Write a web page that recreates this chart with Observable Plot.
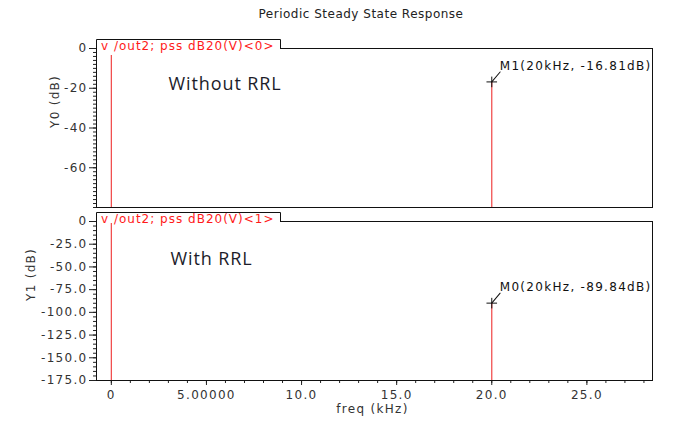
<!DOCTYPE html>
<html><head><meta charset="utf-8">
<script src="https://cdn.jsdelivr.net/npm/d3@7"></script>
<script src="https://cdn.jsdelivr.net/npm/@observablehq/plot@0.6"></script>
<style>
body{margin:0;background:#fff;}
#chart{position:relative;width:673px;height:421px;overflow:hidden;background:#fff;}
#chart svg{display:block;}
</style></head><body><div id="chart"></div>
<script>
// ---- data ----
const title = "Periodic Steady State Response";
const freq = [0, 20];                 // kHz
const y0dB = [-3.5, -16.81];          // Without RRL
const y1dB = [5, -89.84];             // With RRL
const markerFreq = [20];
const markerNames0 = ["M1"];
const markerValues0 = [-16.81];
const markerNames1 = ["M0"];
const markerValues1 = [-89.84];
const traceName0 = "v /out2; pss dB20(V)<0>";
const traceName1 = "v /out2; pss dB20(V)<1>";
const note0 = "Without RRL";
const note1 = "With RRL";
const xTicks = [0, 5, 10, 15, 20, 25];
const xTickLabels = ["0", "5.00000", "10.0", "15.0", "20.0", "25.0"];
const y0Ticks = [0, -20, -40, -60];
const y0TickLabels = ["0", "-20", "-40", "-60"];
const y1Ticks = [0, -25, -50, -75, -100, -125, -150, -175];
const y1TickLabels = ["0", "-25.0", "-50.0", "-75.0", "-100.0", "-125.0", "-150.0", "-175.0"];
const xDomain = [-0.78, 28.45];
const y0Domain = [-80, 0];
const y1Domain = [-175, 0];
const xLabel = "freq (kHz)";
const y0Label = "Y0 (dB)";
const y1Label = "Y1 (dB)";

// ---- derived tables ----
const topRows = freq.map((f, i) => ({f, v: y0dB[i]}));
const botRows = freq.map((f, i) => ({f, v: y1dB[i]}));
const mk0 = markerFreq.map((f, i) => ({f, v: markerValues0[i], label: `${markerNames0[i]}(${f}kHz, ${markerValues0[i]}dB)`}));
const mk1 = markerFreq.map((f, i) => ({f, v: markerValues1[i], label: `${markerNames1[i]}(${f}kHz, ${markerValues1[i]}dB)`}));
const y0Minor = d3.range(0, -81, -2);
const y1Minor = d3.range(0, -176, -5);
const xMinor = d3.range(0, 29, 1);

const RED = "#f04444";
const leader = {draw(ctx, l) { ctx.moveTo(0, 0); ctx.lineTo(0, -l); }};
const axisStyle = {fontSize: "12px", fontFamily: "DejaVu Sans", color: "#333", letterSpacing: "1.3px", background: "transparent", overflow: "visible"};

function markerMarks(mk) {
  return [
    Plot.dot(mk, {x: "f", y: "v", symbol: "plus", r: 3.5, stroke: "#111", strokeWidth: 1}),
    Plot.vector(mk, {x: "f", y: "v", length: 13, rotate: 40, anchor: "start", shape: leader, stroke: "#111", strokeWidth: 1}),
    Plot.text(mk, {x: "f", y: "v", text: "label", dx: 8, dy: -12, textAnchor: "start", lineAnchor: "bottom", fill: "#111", fontSize: 12})
  ];
}

const plotTop = Plot.plot({
  width: 673, height: 210,
  marginLeft: 96, marginRight: 21, marginTop: 48, marginBottom: 3,
  x: {domain: xDomain, axis: null},
  y: {domain: y0Domain},
  style: axisStyle,
  marks: [
    Plot.axisY(y0Minor, {tickSize: 3, tickFormat: () => "", label: null, stroke: "#222"}),
    Plot.axisY(y0Ticks, {tickSize: 7, tickPadding: 2, tickFormat: d => y0TickLabels[y0Ticks.indexOf(d)], label: null, stroke: "#222"}),
    Plot.ruleX(topRows, {x: "f", y1: y0Domain[0], y2: "v", stroke: RED, strokeWidth: 1.2}),
    ...markerMarks(mk0),
    Plot.text([note0], {text: d => d, frameAnchor: "top-left", textAnchor: "start", lineAnchor: "top", dx: 72, dy: 29, fontSize: 18, fontFamily: "Open Sans", fill: "#1c1c2a"}),
    Plot.text([y0Label], {text: d => d, frameAnchor: "left", rotate: -90, dx: -41, fontSize: 12}),
    Plot.frame({stroke: "#111"})
  ]
});

const plotBot = Plot.plot({
  width: 673, height: 211,
  marginLeft: 96, marginRight: 21, marginTop: 11, marginBottom: 41,
  x: {domain: xDomain},
  y: {domain: y1Domain},
  style: axisStyle,
  marks: [
    Plot.axisY(y1Minor, {tickSize: 3, tickFormat: () => "", label: null, stroke: "#222"}),
    Plot.axisY(y1Ticks, {tickSize: 7, tickPadding: 2, tickFormat: d => y1TickLabels[y1Ticks.indexOf(d)], label: null, stroke: "#222"}),
    Plot.axisX(xMinor, {tickSize: 3, tickFormat: () => "", label: null, stroke: "#222"}),
    Plot.axisX(xTicks, {tickSize: 5, tickPadding: 5, tickFormat: d => xTickLabels[xTicks.indexOf(d)], label: null, stroke: "#222"}),
    Plot.ruleX(botRows, {x: "f", y1: y1Domain[0], y2: "v", stroke: RED, strokeWidth: 1.2}),
    ...markerMarks(mk1),
    Plot.text([note1], {text: d => d, frameAnchor: "top-left", textAnchor: "start", lineAnchor: "top", dx: 74, dy: 31, fontSize: 18, fontFamily: "Open Sans", fill: "#1c1c2a"}),
    Plot.text([y1Label], {text: d => d, frameAnchor: "left", rotate: -90, dx: -65, fontSize: 12}),
    Plot.text([xLabel], {text: d => d, frameAnchor: "bottom", lineAnchor: "top", dx: -2, dy: 24, fontSize: 12}),
    Plot.frame({stroke: "#111"})
  ]
});

const chart = document.getElementById("chart");
chart.appendChild(plotTop);
chart.appendChild(plotBot);

// decorations: trace-name tabs, title, letter spacing of notes
function addTab(svg, frameTop, name) {
  const s = d3.select(svg);
  s.append("rect").attr("x", 97).attr("y", frameTop - 8).attr("width", 183).attr("height", 10).attr("fill", "#fff");
  s.append("path").attr("d", `M96.5,${frameTop + 0.5}V${frameTop - 8.5}H280.5V${frameTop + 0.5}`).attr("fill", "none").attr("stroke", "#111");
  s.append("text").attr("x", 101).attr("y", frameTop + 1.5).attr("text-anchor", "start").attr("fill", "#ff1a1a").attr("font-size", 12).attr("font-family", "DejaVu Sans").style("letter-spacing", "1px").text(name);
}
addTab(plotTop, 48, traceName0);
addTab(plotBot, 11, traceName1);
d3.select(plotTop).append("text").attr("x", 361).attr("y", 18).attr("text-anchor", "middle").attr("fill", "#222").attr("font-size", 12).attr("font-family", "DejaVu Sans").style("letter-spacing", "0.5px").text(title);
d3.selectAll("#chart text").filter(function() { return this.textContent.includes("RRL"); }).style("letter-spacing", "0.9px");
</script></body></html>
